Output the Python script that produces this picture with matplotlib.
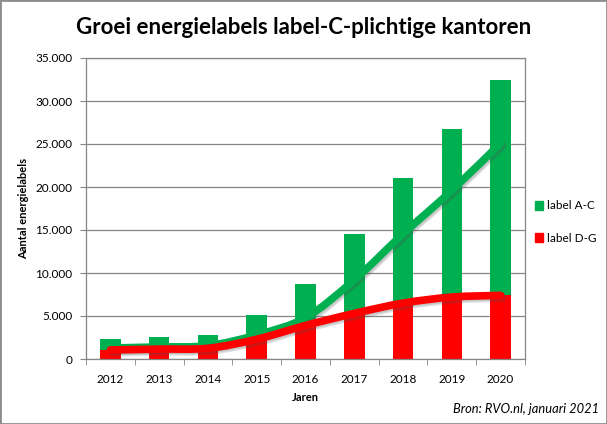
import matplotlib
matplotlib.use("Agg")
import matplotlib.pyplot as plt
import numpy as np
from matplotlib.patches import Patch, PathPatch, Rectangle
from matplotlib.path import Path
from matplotlib.ticker import FuncFormatter, FixedLocator
import matplotlib.patheffects as pe

plt.rcParams['font.family'] = ['Lato', 'DejaVu Sans']

# data
years = ['2012', '2013', '2014', '2015', '2016', '2017', '2018', '2019', '2020']
label_dg = [1050, 1150, 1250, 2300, 3900, 5300, 6500, 7200, 7400]
label_ac = [1280, 1400, 1550, 2800, 4800, 9200, 14550, 19600, 25100]
yticks = [0, 5000, 10000, 15000, 20000, 25000, 30000, 35000]

GREEN = '#00b050'
RED = '#ff0000'
GRID = '#868686'


def smooth_path(xs, ys):
    # catmull-rom style bezier through the points (like excel smoothed lines)
    pts = np.column_stack([xs, ys]).astype(float)
    verts = [pts[0]]
    codes = [Path.MOVETO]
    n = len(pts)
    for i in range(n - 1):
        p0 = pts[max(i - 1, 0)]
        p1 = pts[i]
        p2 = pts[i + 1]
        p3 = pts[min(i + 2, n - 1)]
        c1 = p1 + (p2 - p0) / 6
        c2 = p2 - (p3 - p1) / 6
        verts += [c1, c2, p2]
        codes += [Path.CURVE4] * 3
    return Path(verts, codes)


fig = plt.figure(figsize=(6.07, 4.24), dpi=100)
ax = fig.add_axes([86/607, 1-359/424, (525-86)/607, (359-58)/424])

x = np.arange(len(years))
ax.bar(x, label_dg, width=0.42, color=RED, zorder=2)
ax.bar(x, label_ac, width=0.42, bottom=label_dg, color=GREEN, zorder=2)

# soft shadow under the trend lines
shadow = [pe.SimpleLineShadow(offset=(1.5, -2), shadow_color='#505050', alpha=0.18),
          pe.SimpleLineShadow(offset=(1, -1), shadow_color='#505050', alpha=0.18),
          pe.Normal()]
for vals, col in [(label_ac, GREEN), (label_dg, RED)]:
    pp = PathPatch(smooth_path(x, vals), facecolor='none', edgecolor=col,
                   lw=5.5, capstyle='round', joinstyle='round', zorder=3)
    pp.set_path_effects(shadow)
    ax.add_patch(pp)

ax.set_xlim(-0.5, len(years) - 0.5)
ax.set_ylim(0, 35000)
ax.set_yticks(yticks)
ax.yaxis.set_major_formatter(FuncFormatter(lambda v, p: f'{int(v):,}'.replace(',', '.')))
ax.set_xticks(x)
ax.set_xticklabels(years)
ax.xaxis.set_minor_locator(FixedLocator(np.arange(-0.5, len(years), 1.0)))
ax.tick_params(axis='x', which='major', length=0, pad=11, labelsize=8.5, colors='black')
ax.tick_params(axis='x', which='minor', length=4, color=GRID)
ax.tick_params(axis='y', length=4, color=GRID, pad=6, labelsize=8.5)

ax.grid(axis='y', color=GRID, lw=0.9)
ax.set_axisbelow(True)
for s in ax.spines.values():
    s.set_color(GRID)
    s.set_linewidth(0.9)

ax.set_ylabel('Aantal energielabels', fontsize=8, fontweight='bold', labelpad=4.5)
ax.set_xlabel('Jaren', fontsize=8, fontweight='bold', labelpad=5)

fig.text(0.5, 1-27/424, 'Groei energielabels label-C-plichtige kantoren',
         ha='center', va='center', fontsize=16, fontweight='bold')
fig.text(599/607, 1-409/424, 'Bron: RVO.nl, januari 2021', ha='right', va='center',
         fontsize=9.3, style='italic')

handles = [Patch(color=GREEN, label='label A-C'), Patch(color=RED, label='label D-G')]
fig.legend(handles=handles, loc='center left', bbox_to_anchor=(524/607, 1-222/424),
           frameon=False, fontsize=8.5, handlelength=0.75, handleheight=0.75,
           handletextpad=0.3, labelspacing=1.8)

fig.patches.append(Rectangle((0, 0), 1, 1, transform=fig.transFigure, fill=False,
                             edgecolor='#8c8c8c', lw=2))

fig.savefig('out.png', dpi=100)
